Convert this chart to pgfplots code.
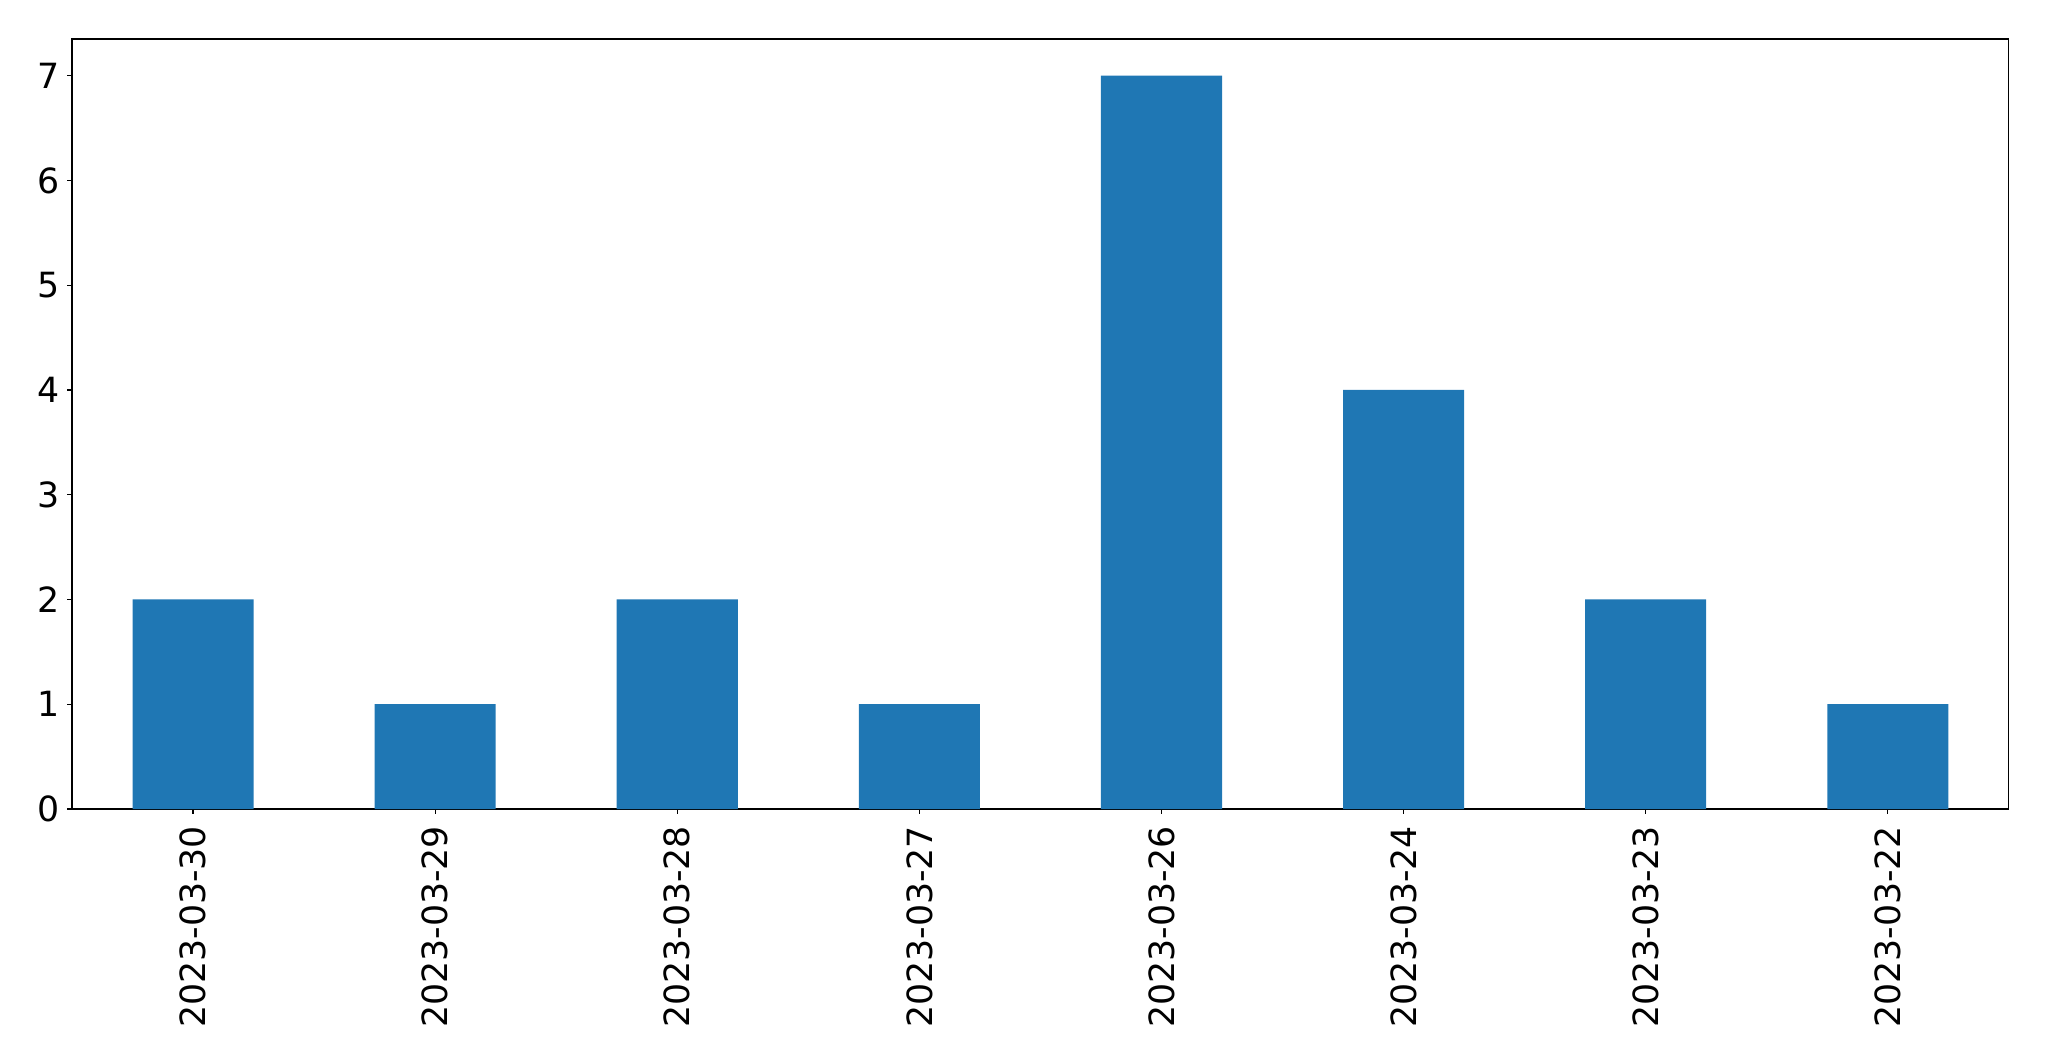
\documentclass[border=0pt]{standalone}
\usepackage{pgfplots}
\pgfplotsset{compat=1.18}
\usepackage{fontspec}
\setmainfont{DejaVu Sans}
\definecolor{tabblue}{HTML}{1F77B4}
\begin{document}
\begin{tikzpicture}
\useasboundingbox (-51.84pt,-181.44pt) rectangle (1423.44pt,582.48pt);
\begin{axis}[
  scale only axis,
  width=1394.64pt, height=554.4pt,
  xmin=-0.5, xmax=7.5, ymin=0, ymax=7.35,
  xtick={0,...,7},
  xticklabels={2023-03-30,2023-03-29,2023-03-28,2023-03-27,2023-03-26,2023-03-24,2023-03-23,2023-03-22},
  ytick={0,...,7},
  tick align=outside,
  major tick length=3.5pt,
  xtick pos=bottom, ytick pos=left,
  axis line style={line width=0.8pt},
  every tick/.style={black, line width=0.8pt},
  /pgf/number format/assume math mode=true,
  tick label style={font=\fontsize{25}{30}\selectfont, inner sep=0pt},
  xticklabel style={yshift=-8.5pt, rotate=90, anchor=east},
  yticklabel style={anchor=east, xshift=-5pt},
  bar width=0.5,
]
\addplot[ybar, fill=tabblue, draw=none, bar shift=0pt] coordinates {
  (0,2) (1,1) (2,2) (3,1) (4,7) (5,4) (6,2) (7,1)
};
\end{axis}
\end{tikzpicture}
\end{document}
